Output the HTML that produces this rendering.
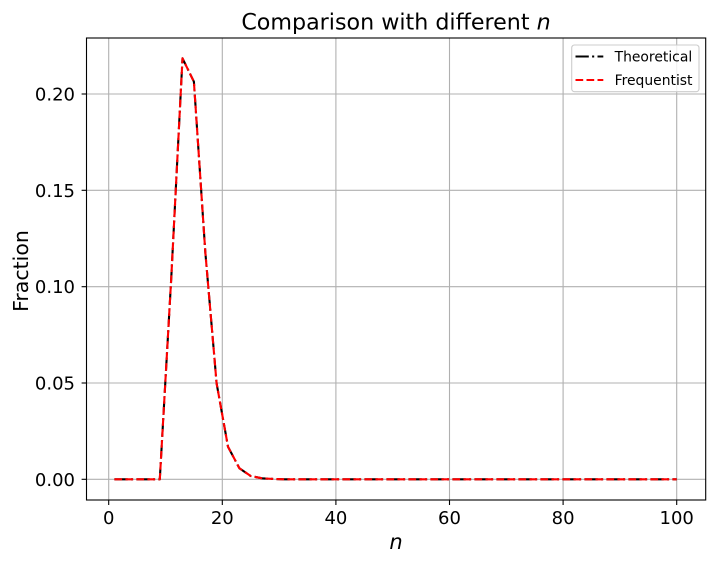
<!DOCTYPE html>
<html>
<head>
<meta charset="utf-8">
<style>
html,body{margin:0;padding:0;background:#fff;}
svg{display:block;}
text{font-family:"DejaVu Sans","Liberation Sans",sans-serif;fill:#000;}
</style>
</head>
<body>
<svg width="715" height="563" viewBox="0 0 715 563" xmlns="http://www.w3.org/2000/svg">
<rect x="0" y="0" width="715" height="563" fill="#fff"/>
<!-- grid -->
<g stroke="#b0b0b0" stroke-width="1.1" fill="none">
<line x1="108.7" y1="38" x2="108.7" y2="500"/>
<line x1="222.3" y1="38" x2="222.3" y2="500"/>
<line x1="335.9" y1="38" x2="335.9" y2="500"/>
<line x1="449.5" y1="38" x2="449.5" y2="500"/>
<line x1="563.1" y1="38" x2="563.1" y2="500"/>
<line x1="676.7" y1="38" x2="676.7" y2="500"/>
<line x1="86.5" y1="479.3" x2="705.7" y2="479.3"/>
<line x1="86.5" y1="383" x2="705.7" y2="383"/>
<line x1="86.5" y1="286.7" x2="705.7" y2="286.7"/>
<line x1="86.5" y1="190.3" x2="705.7" y2="190.3"/>
<line x1="86.5" y1="94" x2="705.7" y2="94"/>
</g>
<!-- series -->
<g fill="none" stroke-width="2.1" stroke-linejoin="round">
<polyline stroke="#000" stroke-dasharray="13.3 3.3 2.1 3.3" points="114.4,479.3 125.7,479.3 137.1,479.3 148.5,479.3 159.8,479.3 171.2,279 182.5,58.3 193.9,81.7 205.3,252 216.6,383.3 228,446.7 239.4,468.3 250.7,476 262.1,478.3 273.4,479 284.8,479.3 676.7,479.3"/>
<polyline stroke="#ff0000" stroke-dasharray="7.7 3.3" points="114.4,479.3 125.7,479.3 137.1,479.3 148.5,479.3 159.8,479.3 171.2,279 182.5,58.3 193.9,81.7 205.3,252 216.6,383.3 228,446.7 239.4,468.3 250.7,476 262.1,478.3 273.4,479 284.8,479.3 676.7,479.3"/>
</g>
<!-- spines -->
<rect x="86.5" y="38" width="619.2" height="462" fill="none" stroke="#000" stroke-width="1.1"/>
<!-- ticks -->
<g stroke="#000" stroke-width="1.1">
<line x1="108.7" y1="500" x2="108.7" y2="505"/>
<line x1="222.3" y1="500" x2="222.3" y2="505"/>
<line x1="335.9" y1="500" x2="335.9" y2="505"/>
<line x1="449.5" y1="500" x2="449.5" y2="505"/>
<line x1="563.1" y1="500" x2="563.1" y2="505"/>
<line x1="676.7" y1="500" x2="676.7" y2="505"/>
<line x1="81.6" y1="479.3" x2="86.5" y2="479.3"/>
<line x1="81.6" y1="383" x2="86.5" y2="383"/>
<line x1="81.6" y1="286.7" x2="86.5" y2="286.7"/>
<line x1="81.6" y1="190.3" x2="86.5" y2="190.3"/>
<line x1="81.6" y1="94" x2="86.5" y2="94"/>
</g>
<g font-size="18" text-anchor="middle">
<text x="108.7" y="524">0</text>
<text x="222.3" y="524">20</text>
<text x="335.9" y="524">40</text>
<text x="449.5" y="524">60</text>
<text x="563.1" y="524">80</text>
<text x="676.7" y="524">100</text>
</g>
<g font-size="18" text-anchor="end">
<text x="75" y="485.8">0.00</text>
<text x="75" y="389.5">0.05</text>
<text x="75" y="293.2">0.10</text>
<text x="75" y="196.8">0.15</text>
<text x="75" y="100.5">0.20</text>
</g>
<!-- labels -->
<text x="396" y="29.5" font-size="22.2" text-anchor="middle">Comparison with different <tspan font-style="italic">n</tspan></text>
<text x="396" y="549" font-size="21" font-style="italic" text-anchor="middle">n</text>
<text transform="translate(28,271) rotate(-90)" font-size="20.5" text-anchor="middle">Fraction</text>
<!-- legend -->
<rect x="571.7" y="45" width="127.3" height="46.7" rx="2.8" fill="#fff" fill-opacity="0.8" stroke="#cccccc" stroke-width="1.1"/>
<line x1="575.5" y1="56.5" x2="603.3" y2="56.5" stroke="#000" stroke-width="2.1" stroke-dasharray="13.3 3.3 2.1 3.3"/>
<line x1="575.5" y1="80" x2="603.3" y2="80" stroke="#ff0000" stroke-width="2.1" stroke-dasharray="7.7 3.3"/>
<text x="614.6" y="61.5" font-size="13.9">Theoretical</text>
<text x="614.6" y="85" font-size="13.9">Frequentist</text>
</svg>
</body>
</html>
